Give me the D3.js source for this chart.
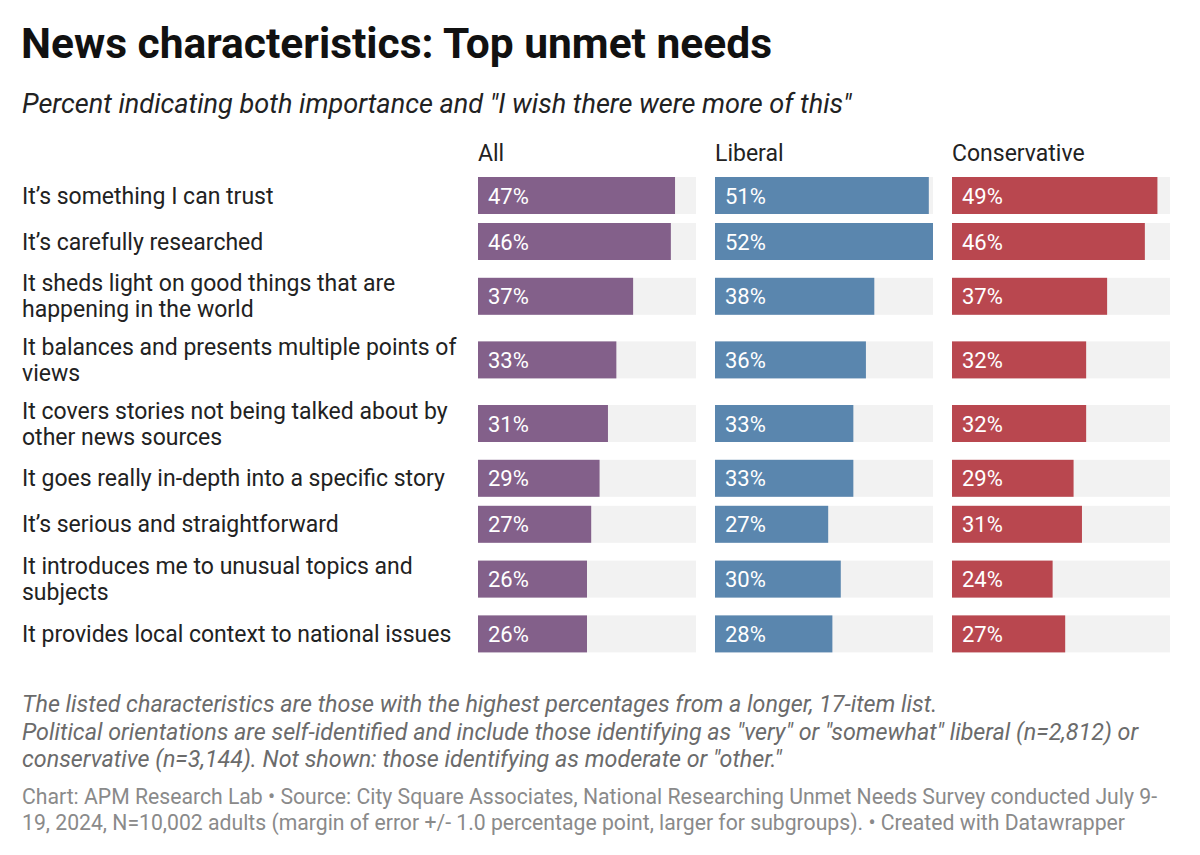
<!DOCTYPE html>
<html>
<head>
<meta charset="utf-8">
<script src="https://cdn.jsdelivr.net/npm/d3@7"></script>
<style>
  html, body { margin: 0; padding: 0; background: #fff; }
  svg { display: block; font-family: Roboto, "Noto Sans", sans-serif; }
</style>
</head>
<body>
<svg id="chart" width="1200" height="855"></svg>
<script>
const categories = [
  "It\u2019s something I can trust",
  "It\u2019s carefully researched",
  "It sheds light on good things that are happening in the world",
  "It balances and presents multiple points of views",
  "It covers stories not being talked about by other news sources",
  "It goes really in-depth into a specific story",
  "It\u2019s serious and straightforward",
  "It introduces me to unusual topics and subjects",
  "It provides local context to national issues"
];
const seriesNames = ["All", "Liberal", "Conservative"];
const allValues = [47, 46, 37, 33, 31, 29, 27, 26, 26];
const liberalValues = [51, 52, 38, 36, 33, 33, 27, 30, 28];
const conservativeValues = [49, 46, 37, 32, 32, 29, 31, 24, 27];
const seriesValues = [allValues, liberalValues, conservativeValues];
const seriesColors = ["#83608a", "#5a86ae", "#b9474f"];

const title = "News characteristics: Top unmet needs";
const subtitle = "Percent indicating both importance and \"I wish there were more of this\"";
const notes = [
  "The listed characteristics are those with the highest percentages from a longer, 17-item list.",
  "Political orientations are self-identified and include those identifying as \"very\" or \"somewhat\" liberal (n=2,812) or",
  "conservative (n=3,144). Not shown: those identifying as moderate or \"other.\""
];
const credits = [
  "Chart: APM Research Lab \u2022 Source: City Square Associates, National Researching Unmet Needs Survey conducted July 9-",
  "19, 2024, N=10,002 adults (margin of error +/- 1.0 percentage point, larger for subgroups). \u2022 Created with Datawrapper"
];

const svg = d3.select("#chart");
const left = 22;

svg.append("text").attr("x", left - 1).attr("y", 58)
  .attr("font-size", 42.5).attr("font-weight", 700).attr("fill", "#111")
  .text(title);
svg.append("text").attr("x", left).attr("y", 113)
  .attr("font-size", 27.1).attr("font-style", "italic").attr("fill", "#222")
  .text(subtitle);

const panelWidth = 218;
const panelStep = 237;
const panelStart = i => 478 + i * panelStep;
const maxVal = d3.max(seriesValues.flat());
const x = d3.scaleLinear().domain([0, maxVal]).range([0, panelWidth]);

seriesNames.forEach((n, i) => {
  svg.append("text").attr("x", panelStart(i)).attr("y", 161)
    .attr("font-size", 23).attr("fill", "#222").text(n);
});

// wrap labels
const labelFont = 23;
const maxLabelW = 450;
const measure = svg.append("text").attr("font-size", labelFont).attr("visibility", "hidden");
function wrap(str) {
  const words = str.split(" ");
  const lines = [];
  let cur = "";
  words.forEach(w => {
    const test = cur ? cur + " " + w : w;
    measure.text(test);
    if (measure.node().getComputedTextLength() > maxLabelW && cur) {
      lines.push(cur); cur = w;
    } else cur = test;
  });
  if (cur) lines.push(cur);
  return lines;
}
const wrapped = categories.map(wrap);
measure.remove();

const barH = 37, gap = 9, lineH = 26.8;
const rowBlock = n => Math.max(barH, n * lineH + 1);
let yCursor = 177;
const rows = wrapped.map((lines, i) => {
  const bh = rowBlock(lines.length);
  const barTop = yCursor + (bh - barH) / 2;
  const r = { lines, barTop, center: barTop + barH / 2 };
  yCursor += bh + gap;
  return r;
});

rows.forEach((r, i) => {
  const n = r.lines.length;
  const t = svg.append("text").attr("font-size", labelFont).attr("fill", "#222");
  r.lines.forEach((ln, k) => {
    t.append("tspan").attr("x", left)
      .attr("y", r.center + 8 + (k - (n - 1) / 2) * 26)
      .text(ln);
  });
});

seriesNames.forEach((name, si) => {
  const g = svg.append("g").attr("transform", `translate(${panelStart(si)},0)`);
  const vals = seriesValues[si];
  g.selectAll("rect.bg").data(rows).join("rect").attr("class", "bg")
    .attr("x", 0).attr("y", d => d.barTop).attr("width", x(maxVal)).attr("height", barH)
    .attr("fill", "#f2f2f2");
  g.selectAll("rect.bar").data(vals).join("rect").attr("class", "bar")
    .attr("x", 0).attr("y", (d, i) => rows[i].barTop)
    .attr("width", d => x(d)).attr("height", barH)
    .attr("fill", seriesColors[si]);
  g.selectAll("text.val").data(vals).join("text").attr("class", "val")
    .attr("x", 10).attr("y", (d, i) => rows[i].center + 8)
    .attr("font-size", 22).attr("fill", "#fff")
    .text(d => d + "%");
});

notes.forEach((t, i) => {
  svg.append("text").attr("x", left).attr("y", 712 + i * 27.5)
    .attr("font-size", 23.3).attr("font-style", "italic").attr("fill", "#6b6b6b")
    .text(t);
});
credits.forEach((t, i) => {
  svg.append("text").attr("x", left).attr("y", 804 + i * 25.5)
    .attr("font-size", 21.2).attr("fill", "#8a8a8a")
    .text(t);
});
</script>
</body>
</html>
